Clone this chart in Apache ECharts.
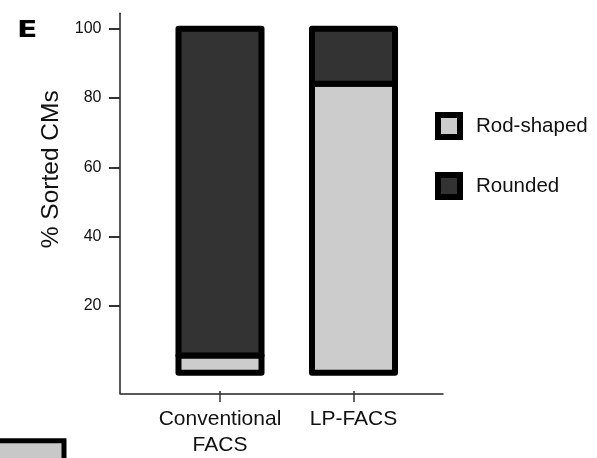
<!DOCTYPE html>
<html>
<head>
<meta charset="utf-8">
<script src="https://cdn.jsdelivr.net/npm/echarts@6/dist/echarts.min.js"></script>
<style>
  html, body { margin: 0; padding: 0; background: #fff; }
  #chart { width: 597px; height: 458px; }
</style>
</head>
<body>
<div id="chart"></div>
<script>
// Sorted cardiomyocyte morphology per sorting method (% of sorted CMs)
const categories = ['Conventional\nFACS', 'LP-FACS'];
const rodShaped = [5, 84];
const rounded = [95, 16];
const yTickValues = [20, 40, 60, 80, 100];

const FONT = 'Liberation Sans, Arial, sans-serif';
const LIGHT = '#cccccc';
const DARK = '#333333';
const BAR_FRACTION = 0.622;   // bar width as a share of the category band
const OUTLINE = 6;

// stacked segments: [categoryIndex, lower, upper]
const rodSegments = categories.map((c, i) => [i, 0, rodShaped[i]]);
const roundedSegments = categories.map((c, i) => [i, rodShaped[i], rodShaped[i] + rounded[i]]);

const chart = echarts.init(document.getElementById('chart'), null, { renderer: 'canvas' });

const gridTop = 13.3;
const gridBottom = 64.7;
const yMin = -5.3;
const yMax = 104.5;

// outlined stacked segment, stroke centred on the value edges
function renderSegment(params, api) {
  const x = api.value(0);
  const lo = api.coord([x, api.value(1)]);
  const hi = api.coord([x, api.value(2)]);
  const w = api.size([1, 0])[0] * BAR_FRACTION;
  return {
    type: 'rect',
    shape: { x: lo[0] - w / 2, y: hi[1], width: w, height: lo[1] - hi[1] },
    style: { fill: api.visual('color'), stroke: '#000', lineWidth: OUTLINE, lineJoin: 'round' }
  };
}

chart.setOption({
  animation: false,
  backgroundColor: '#fff',
  grid: [
    // frame grid: axis lines, y ticks and y title
    { left: 120, right: 154, top: gridTop, bottom: gridBottom },
    // bar grid: category bands for the two sorting methods
    { left: 153.25, width: 267, top: gridTop, bottom: gridBottom }
  ],
  xAxis: [
    {
      gridIndex: 0, type: 'value', min: 0, max: 1,
      axisLine: { show: true, onZero: false, lineStyle: { color: '#222', width: 1.5 } },
      axisTick: { show: false }, axisLabel: { show: false }, splitLine: { show: false }
    },
    {
      gridIndex: 1, type: 'category', data: categories, boundaryGap: true,
      axisLine: { show: false, onZero: false },
      axisTick: { show: true, alignWithLabel: true, length: 11, lineStyle: { color: '#333', width: 1.5 } },
      axisLabel: { interval: 0, color: '#111', fontSize: 21, fontFamily: FONT, lineHeight: 26, margin: 15 },
      splitLine: { show: false }
    }
  ],
  yAxis: [
    {
      gridIndex: 0, type: 'value', min: yMin, max: yMax,
      name: '% Sorted CMs', nameLocation: 'middle', nameGap: 55,
      nameTextStyle: { color: '#111', fontSize: 24.5, fontFamily: FONT, padding: [0, 0, 0, 68] },
      axisLine: { show: true, onZero: false, lineStyle: { color: '#222', width: 1.5 } },
      axisTick: { show: true, customValues: yTickValues, length: 11, lineStyle: { color: '#333', width: 2 } },
      axisLabel: { show: true, customValues: yTickValues, color: '#111', fontSize: 16, fontFamily: FONT, margin: 18.5 },
      splitLine: { show: false }
    },
    {
      gridIndex: 1, type: 'value', min: yMin, max: yMax, show: false,
      splitLine: { show: false }
    }
  ],
  legend: {
    orient: 'vertical',
    left: 435, top: 112,
    padding: 0,
    itemWidth: 22, itemHeight: 22, itemGap: 32,
    icon: 'rect',
    itemStyle: { borderColor: '#000', borderWidth: 6 },
    textStyle: { color: '#111', fontSize: 20.5, fontFamily: FONT, padding: [0, 0, 0, 11] },
    data: ['Rod-shaped', 'Rounded']
  },
  series: [
    {
      name: 'Rod-shaped', type: 'custom',
      xAxisIndex: 1, yAxisIndex: 1,
      itemStyle: { color: LIGHT },
      encode: { x: 0, y: [1, 2] },
      renderItem: renderSegment,
      data: rodSegments
    },
    {
      name: 'Rounded', type: 'custom',
      xAxisIndex: 1, yAxisIndex: 1,
      itemStyle: { color: DARK },
      encode: { x: 0, y: [1, 2] },
      renderItem: renderSegment,
      data: roundedSegments
    }
  ],
  graphic: [
    {
      // panel letter
      type: 'text', x: 17, y: 31.5, scaleX: 1.3,
      style: { text: 'E', fontSize: 23, fontWeight: 'bold', fontFamily: 'DejaVu Sans', fill: '#000', verticalAlign: 'middle' }
    },
    {
      // edge of the neighbouring panel's legend box
      type: 'rect',
      shape: { x: -10, y: 440.8, width: 74, height: 40 },
      style: { fill: '#c8c8c8', stroke: '#000', lineWidth: 5 }
    }
  ]
});
</script>
</body>
</html>
